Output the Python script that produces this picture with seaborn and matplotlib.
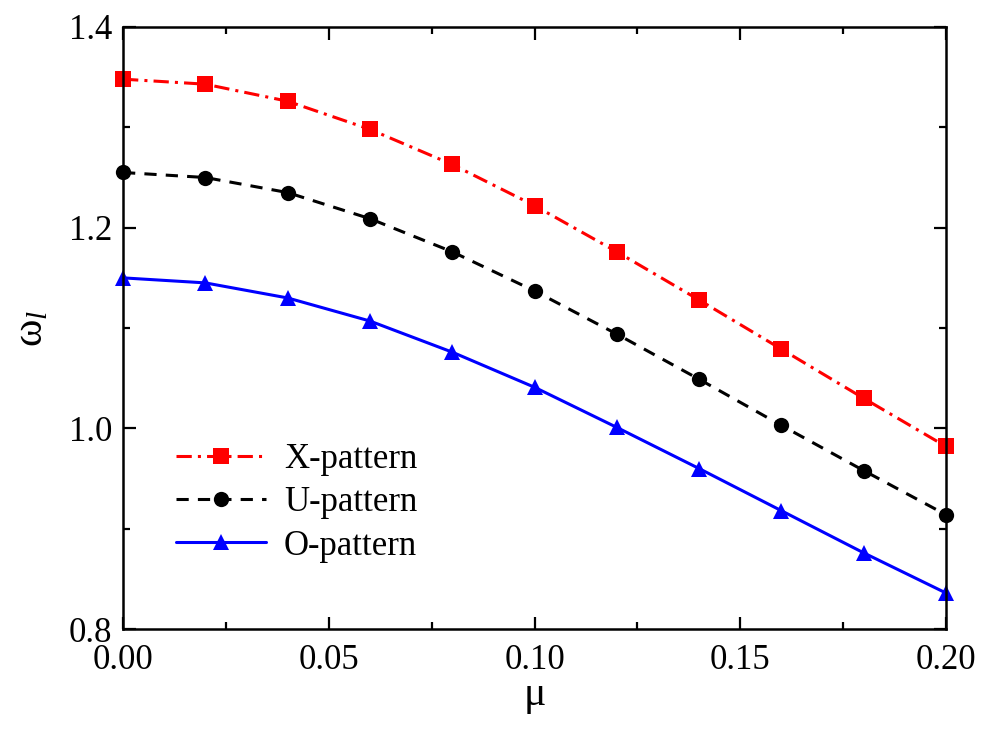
import matplotlib
matplotlib.use("Agg")
import matplotlib.pyplot as plt
from matplotlib.ticker import MultipleLocator
import seaborn as sns
import pandas as pd

# friction coefficient and natural frequency per stiffener pattern
mu = [0.00, 0.02, 0.04, 0.06, 0.08, 0.10, 0.12, 0.14, 0.16, 0.18, 0.20]
x_pattern = [1.348, 1.343, 1.326, 1.298, 1.263, 1.222, 1.176, 1.128, 1.079, 1.030, 0.982]
u_pattern = [1.255, 1.250, 1.235, 1.209, 1.176, 1.137, 1.094, 1.049, 1.003, 0.958, 0.914]
o_pattern = [1.150, 1.145, 1.130, 1.107, 1.076, 1.041, 1.001, 0.960, 0.918, 0.876, 0.836]
labels = ["X-pattern", "U-pattern", "O-pattern"]

sns.set_theme(style="ticks", rc={"text.color": "black", "axes.labelcolor": "black",
                                 "xtick.color": "black", "ytick.color": "black"})
plt.rcParams["font.family"] = ["Liberation Serif", "DejaVu Serif"]
plt.rcParams["mathtext.fontset"] = "custom"
plt.rcParams["mathtext.rm"] = "Liberation Serif"
plt.rcParams["mathtext.it"] = "Liberation Serif:italic"

df = pd.DataFrame({
    "mu": mu * 3,
    "omega": x_pattern + u_pattern + o_pattern,
    "pattern": [labels[0]] * len(mu) + [labels[1]] * len(mu) + [labels[2]] * len(mu),
})

fig = plt.figure(figsize=(9.82, 7.29), dpi=100)
ax = fig.add_axes([0.1253, 0.137, 0.838, 0.826])

palette = {labels[0]: "#ff0000", labels[1]: "#000000", labels[2]: "#0000ff"}
dashes = {labels[0]: (5, 2, 1, 2), labels[1]: (4, 3), labels[2]: ""}
markers = {labels[0]: "s", labels[1]: "o", labels[2]: "^"}

sns.lineplot(data=df, x="mu", y="omega", hue="pattern", style="pattern",
             palette=palette, dashes=dashes, markers=markers,
             markersize=11, markeredgewidth=0, linewidth=2.2, ax=ax,
             clip_on=False)

ax.set_xlim(0, 0.2)
ax.set_ylim(0.8, 1.4)
ax.xaxis.set_major_locator(MultipleLocator(0.05))
ax.xaxis.set_minor_locator(MultipleLocator(0.025))
ax.yaxis.set_major_locator(MultipleLocator(0.2))
ax.yaxis.set_minor_locator(MultipleLocator(0.1))
ax.set_xticklabels([f"{v:.2f}" for v in ax.get_xticks()])
ax.set_yticklabels([f"{v:.1f}" for v in ax.get_yticks()])

ax.tick_params(which="both", direction="in", top=True, right=True,
               labelsize=25, width=1.6, colors="black")
ax.tick_params(axis="x", pad=11)
ax.tick_params(axis="y", pad=8)
ax.tick_params(which="major", length=9)
ax.tick_params(which="minor", length=5)
for sp in ax.spines.values():
    sp.set_linewidth(1.8)
    sp.set_color("black")

ax.set_xlabel(r"$\mathrm{\mu}$", fontsize=30, labelpad=0)
ax.set_ylabel(r"$\mathrm{\omega}_{l}$", fontsize=30, labelpad=12)

handles, lbls = ax.get_legend_handles_labels()
ax.legend(handles, lbls, loc="upper left", bbox_to_anchor=(0.035, 0.35),
          frameon=False, fontsize=25, handlelength=2.6, handletextpad=0.5,
          labelspacing=0.3, borderpad=0.2)

fig.savefig("out.png", dpi=100)
